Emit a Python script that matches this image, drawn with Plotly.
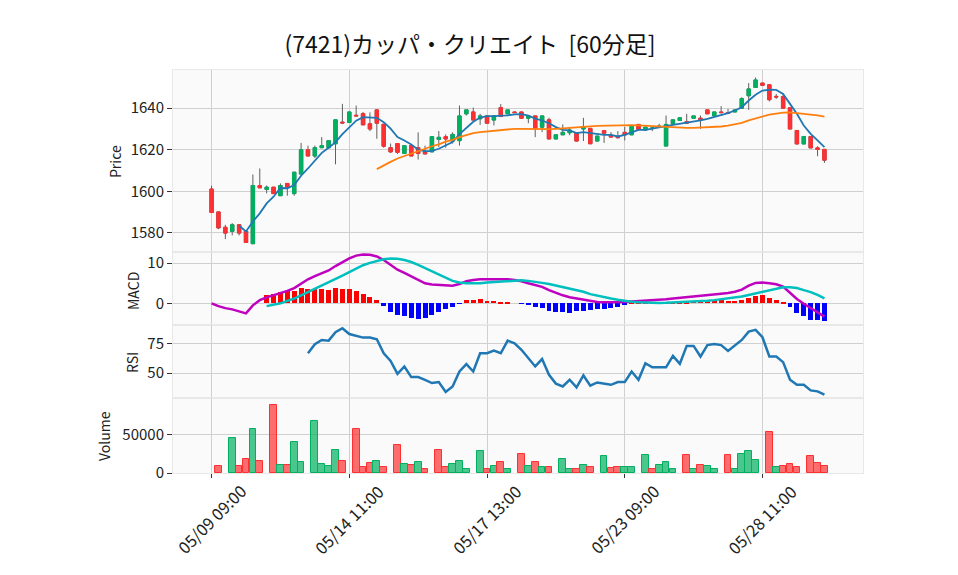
import plotly.graph_objects as go
from plotly.subplots import make_subplots

title = '(7421)カッパ・クリエイト\u00a0\u00a0[60分足]'

days = ['05/09', '05/10', '05/13', '05/14', '05/15', '05/16', '05/17', '05/20',
        '05/21', '05/22', '05/23', '05/24', '05/27', '05/28', '05/29']
sessions = ['09:00', '10:00', '11:00', '12:30', '13:00', '14:00']
bar_times = [f'{d} {s}' for d in days for s in sessions]
tick_idx = [0, 20, 40, 60, 80]

opens = [1601.1, 1590.1, 1582.7, 1580.7, 1583.9, 1580.8, 1574.8, 1602.8, 1600.9, 1602.0,
         1597.9, 1603.8, 1598.9, 1608.3, 1620.0, 1617.0, 1621.0, 1621.0, 1622.9, 1633.3,
         1633.1, 1636.6, 1637.4, 1632.5, 1639.2, 1632.3, 1621.0, 1623.0, 1618.2, 1622.0,
         1621.0, 1619.0, 1619.0, 1625.0, 1626.3, 1624.2, 1624.4, 1637.3, 1638.2, 1634.9,
         1636.3, 1634.3, 1640.3, 1637.3, 1638.2, 1638.2, 1635.2, 1636.3, 1630.9, 1634.4,
         1625.2, 1627.2, 1628.2, 1628.2, 1630.0, 1630.3, 1624.2, 1629.2, 1627.0, 1626.5,
         1628.4, 1627.2, 1632.2, 1629.5, 1630.2, 1630.8, 1621.8, 1632.5, 1634.1, 1633.6,
         1635.2, 1635.2, 1639.2, 1636.3, 1638.2, 1637.9, 1638.2, 1640.0, 1646.0, 1650.0,
         1652.1, 1651.3, 1645.7, 1645.6, 1640.2, 1629.3, 1622.8, 1626.4, 1620.9, 1620.2]
highs = [1602.7, 1590.1, 1583.9, 1584.7, 1583.9, 1580.8, 1608.1, 1611.0, 1602.8, 1602.0,
         1603.8, 1603.8, 1609.2, 1623.3, 1622.0, 1622.0, 1626.1, 1624.4, 1634.4, 1642.1,
         1638.2, 1641.3, 1638.2, 1638.0, 1639.5, 1632.3, 1623.0, 1623.0, 1622.0, 1622.0,
         1628.4, 1622.0, 1626.3, 1629.0, 1627.4, 1628.4, 1641.3, 1639.2, 1640.3, 1637.3,
         1636.3, 1636.3, 1642.0, 1639.2, 1638.2, 1638.2, 1636.3, 1636.3, 1636.3, 1635.4,
         1627.2, 1632.2, 1631.0, 1628.2, 1635.4, 1630.3, 1626.6, 1629.2, 1628.5, 1629.0,
         1631.0, 1631.2, 1632.2, 1630.9, 1631.0, 1632.5, 1636.5, 1634.4, 1635.4, 1637.3,
         1636.3, 1636.5, 1639.2, 1638.2, 1641.0, 1639.7, 1639.2, 1645.3, 1652.1, 1654.8,
         1652.1, 1651.3, 1646.9, 1646.9, 1640.2, 1629.3, 1626.4, 1626.4, 1621.7, 1620.2]
lows = [1589.8, 1581.8, 1577.0, 1578.8, 1578.8, 1575.4, 1574.8, 1601.7, 1599.0, 1598.9,
        1597.9, 1597.9, 1597.9, 1608.3, 1617.0, 1616.0, 1621.0, 1621.0, 1613.0, 1632.9,
        1633.1, 1636.3, 1632.0, 1629.0, 1625.3, 1621.0, 1618.5, 1618.0, 1618.2, 1617.0,
        1615.3, 1618.0, 1619.0, 1621.3, 1621.0, 1623.0, 1622.0, 1636.5, 1634.3, 1632.0,
        1632.8, 1631.7, 1636.0, 1637.3, 1637.9, 1635.2, 1632.8, 1626.1, 1628.5, 1625.2,
        1625.2, 1627.2, 1627.0, 1624.2, 1624.2, 1622.9, 1624.2, 1623.3, 1626.1, 1625.5,
        1624.5, 1627.2, 1629.8, 1629.5, 1629.0, 1630.5, 1621.8, 1632.5, 1634.1, 1632.8,
        1635.2, 1630.1, 1637.3, 1636.3, 1637.5, 1637.3, 1638.2, 1640.0, 1639.2, 1650.0,
        1651.0, 1643.3, 1644.5, 1640.0, 1630.0, 1622.8, 1622.8, 1620.9, 1616.9, 1613.7]
closes = [1589.8, 1582.4, 1579.9, 1583.9, 1579.9, 1575.4, 1602.8, 1601.7, 1602.0, 1598.9,
          1602.8, 1602.0, 1609.2, 1620.0, 1617.0, 1621.0, 1622.0, 1624.4, 1634.4, 1632.9,
          1638.2, 1636.3, 1632.0, 1630.0, 1632.8, 1621.7, 1619.0, 1618.8, 1622.0, 1617.0,
          1618.2, 1618.0, 1626.3, 1626.0, 1625.2, 1627.4, 1636.3, 1639.2, 1634.3, 1636.3,
          1632.8, 1636.3, 1636.0, 1639.2, 1637.9, 1635.2, 1636.3, 1630.1, 1636.3, 1625.2,
          1627.2, 1628.4, 1629.5, 1624.2, 1631.2, 1622.9, 1626.6, 1628.0, 1626.1, 1625.8,
          1627.2, 1631.2, 1629.8, 1630.9, 1630.5, 1631.4, 1632.2, 1634.4, 1635.4, 1632.8,
          1636.3, 1634.4, 1637.3, 1638.2, 1637.9, 1637.6, 1639.2, 1644.6, 1649.3, 1653.6,
          1651.0, 1644.1, 1645.4, 1640.0, 1630.0, 1622.8, 1626.4, 1620.9, 1620.2, 1615.0]
volumes = [0, 9600, 0, 45200, 9600, 18700, 57000, 16100, 0, 87800,
           10900, 10900, 40000, 14800, 0, 67400, 12200, 9600, 29600, 16100,
           0, 57000, 7400, 13500, 16100, 7400, 0, 36100, 12200, 10900,
           14800, 5650, 0, 29600, 7400, 12200, 16100, 4800, 0, 28300,
           5650, 9600, 14800, 5650, 0, 25200, 9600, 14800, 7400, 7400,
           0, 17800, 4800, 5650, 10900, 7400, 0, 21700, 6100, 7400,
           7400, 7400, 0, 23000, 4800, 10900, 14800, 4800, 0, 23900,
           4800, 10900, 9600, 4800, 0, 23900, 4800, 25200, 27800, 16500,
           0, 52600, 7400, 9600, 12200, 7400, 0, 22600, 13500, 9600]

ma5 = [None] * 4 + [
    1583.4, 1580.7, 1585.5, 1589.4, 1594.2, 1597.4, 1601.6, 1601.5, 1603.0, 1607.5,
    1611.0, 1615.0, 1618.5, 1621.0, 1623.7, 1627.5, 1631.0, 1634.0, 1635.7, 1635.7,
    1635.4, 1633.3, 1630.2, 1626.1, 1624.5, 1622.5, 1620.0, 1619.3, 1619.5, 1620.5,
    1622.0, 1623.7, 1627.5, 1630.5, 1633.5, 1635.5, 1636.2, 1636.2, 1636.3, 1636.6,
    1637.0, 1637.2, 1636.5, 1635.0, 1634.1, 1632.8, 1630.9, 1629.6, 1629.3, 1628.0,
    1628.5, 1628.0, 1627.4, 1627.2, 1627.2, 1626.4, 1627.2, 1628.5, 1629.6, 1629.6,
    1630.1, 1630.6, 1631.4, 1632.0, 1632.5, 1633.0, 1633.6, 1634.1, 1634.9, 1635.7,
    1636.5, 1637.6, 1638.9, 1640.5, 1643.7, 1646.5, 1648.5, 1648.9, 1648.8, 1646.9,
    1642.1, 1637.3, 1631.7, 1627.7, 1624.5, 1621.3]
ma25 = [None] * 24 + [
    1610.7, 1612.6, 1614.2, 1615.8, 1616.9, 1618.1, 1619.3, 1620.5, 1621.7, 1622.6,
    1623.9, 1624.8, 1626.1, 1627.2, 1628.0, 1628.5, 1628.8, 1629.2, 1629.6, 1630.0,
    1630.1, 1630.1, 1630.0, 1629.9, 1629.8, 1629.9, 1630.1, 1630.4, 1630.7, 1630.9,
    1631.1, 1631.3, 1631.5, 1631.6, 1631.7, 1631.8, 1632.0, 1631.9, 1631.7, 1631.5,
    1631.3, 1631.0, 1630.8, 1630.6, 1630.5, 1630.5, 1630.5, 1630.6, 1630.8, 1630.9,
    1631.2, 1631.6, 1632.3, 1633.0, 1634.2, 1635.2, 1636.1, 1636.9, 1637.4, 1637.9,
    1638.0, 1637.7, 1637.5, 1637.1, 1636.6, 1636.0]

macd = [0.0, -0.7, -1.2, -1.5, -2.0, -2.5, -0.5, 0.8, 1.5, 2.0,
        2.6, 3.1, 3.8, 5.0, 6.0, 6.8, 7.5, 8.2, 9.3, 10.3,
        11.2, 11.9, 12.2, 12.1, 11.7, 10.8, 9.6, 8.4, 7.6, 6.8,
        5.8, 5.0, 4.7, 4.6, 4.5, 4.4, 4.8, 5.5, 5.8, 6.0,
        6.0, 6.0, 6.1, 6.0, 5.8, 5.5, 5.0, 4.6, 4.1, 3.3,
        2.6, 2.0, 1.5, 1.2, 0.9, 0.5, 0.35, 0.25, 0.25, 0.25,
        0.35, 0.45, 0.55, 0.65, 0.7, 0.8, 1.0, 1.2, 1.35, 1.55,
        1.7, 1.85, 2.0, 2.2, 2.4, 2.6, 2.9, 3.4, 4.4, 5.1,
        5.2, 5.0, 4.75, 4.2, 2.6, 1.1, -0.1, -1.2, -2.2, -3.3]
signal = [None] * 8 + [
    -0.7, -0.4, 0.0, 0.6, 1.2, 2.0, 2.8, 3.6, 4.4, 5.1,
    6.0, 6.9, 7.8, 8.7, 9.5, 10.1, 10.6, 11.0, 11.2, 11.1,
    10.8, 10.3, 9.6, 8.8, 7.8, 7.1, 6.3, 5.6, 5.2, 5.0,
    5.0, 5.0, 5.2, 5.3, 5.5, 5.6, 5.7, 5.75, 5.6, 5.4,
    5.1, 4.8, 4.4, 4.0, 3.6, 3.2, 2.9, 2.3, 1.9, 1.5,
    1.2, 0.9, 0.6, 0.4, 0.3, 0.2, 0.15, 0.1, 0.12, 0.18,
    0.25, 0.35, 0.45, 0.55, 0.65, 0.8, 1.0, 1.2, 1.4, 1.7,
    2.1, 2.5, 2.9, 3.3, 3.7, 4.0, 4.0, 3.8, 3.3, 2.8,
    2.1, 1.25]
hist = [None] * 8 + [
    2.1, 2.3, 2.75, 3.1, 3.1, 3.8, 3.6, 3.6, 3.6, 3.3,
    3.8, 3.6, 3.6, 3.1, 2.4, 1.6, 0.8, -0.6, -2.1, -2.8,
    -3.2, -3.6, -3.8, -3.6, -2.8, -2.2, -1.4, -0.8, -0.15, 0.8,
    0.8, 1.1, 0.6, 0.6, 0.33, 0.33, 0.0, -0.1, -0.25, -1.0,
    -1.1, -1.9, -2.2, -2.2, -2.3, -1.9, -1.9, -1.75, -1.5, -1.4,
    -1.1, -0.8, -0.25, 0.05, 0.1, 0.2, 0.3, 0.3, 0.3, 0.3,
    0.25, 0.4, 0.5, 0.5, 0.6, 0.75, 0.75, 0.6, 0.67, 0.75,
    1.25, 1.8, 2.1, 1.25, 0.8, 0.1, -1.0, -2.5, -3.25, -4.1,
    -4.25, -4.5]
rsi = [None] * 14 + [
    67, 74.7, 78.4, 77.8, 85, 88.4, 83.5, 81.8, 80.4, 80.4,
    79, 67, 60.5, 49.4, 55.7, 46.6, 46.6, 44.3, 41.5, 42.3,
    33.8, 38.6, 51.4, 57.7, 51.4, 67, 67, 69.3, 67, 77.8,
    75.6, 70, 62.8, 55.7, 62, 48.6, 41, 38.6, 44.3, 37.8,
    48, 39.2, 42, 41, 40, 42.3, 42.3, 51.4, 44.3, 58.5,
    55, 55, 55, 64.8, 58, 73.3, 73.3, 64.2, 74, 75,
    74, 69, 74, 78.4, 85.5, 87, 80.7, 64.2, 64.2, 59.4,
    44.3, 40, 40, 35.2, 34.4, 31.5]

UP, DOWN, WICK = '#00b060', '#fe3032', '#606060'
FONT = 'Noto Sans CJK JP'
GRID = '#d0d0d0'

# The page body adds an 8px margin, so the figure is 8px smaller than the window
# and the plot area (173..863 x 70..473 on screen) is placed from there.
W, H = 950, 567
ML, MT, PW, PH = 165, 62, 690, 403

x = list(range(len(bar_times)))

fig = make_subplots(rows=4, cols=1, shared_xaxes=True, vertical_spacing=0,
                    row_heights=[182, 73, 73, 75])

# wicks first, then bodies without wicks on top so the wick stays grey
fig.add_trace(go.Candlestick(
    x=x, open=opens, high=highs, low=lows, close=closes,
    increasing=dict(line=dict(color=WICK, width=1), fillcolor=WICK),
    decreasing=dict(line=dict(color=WICK, width=1), fillcolor=WICK),
    hoverinfo='skip'), row=1, col=1)
fig.add_trace(go.Candlestick(
    x=x, open=opens, close=closes,
    high=[max(o, c) for o, c in zip(opens, closes)],
    low=[min(o, c) for o, c in zip(opens, closes)],
    increasing=dict(line=dict(color=UP, width=1), fillcolor=UP),
    decreasing=dict(line=dict(color=DOWN, width=1), fillcolor=DOWN),
    text=bar_times), row=1, col=1)
fig.add_trace(go.Scatter(x=x, y=ma5, mode='lines',
                         line=dict(color='#1f77b4', width=1.8)), row=1, col=1)
fig.add_trace(go.Scatter(x=x, y=ma25, mode='lines',
                         line=dict(color='#ff7f0e', width=1.8)), row=1, col=1)

fig.add_trace(go.Bar(x=x, y=hist, width=0.72,
                     marker=dict(color=['#ff0000' if h is not None and h >= 0 else '#0000ff'
                                        for h in hist], line=dict(width=0))),
              row=2, col=1)
fig.add_trace(go.Scatter(x=x, y=macd, mode='lines',
                         line=dict(color='#bf00bf', width=2.5)), row=2, col=1)
fig.add_trace(go.Scatter(x=x, y=signal, mode='lines',
                         line=dict(color='#00bfbf', width=2.5)), row=2, col=1)

fig.add_trace(go.Scatter(x=x, y=rsi, mode='lines',
                         line=dict(color='#1f77b4', width=2.5)), row=3, col=1)

# volume colour follows the change from the previous close
vol_up = [i > 0 and closes[i] > closes[i - 1] for i in x]
fig.add_trace(go.Bar(
    x=x, y=volumes, width=0.98,
    marker=dict(color=['rgba(0,176,96,0.7)' if u else 'rgba(254,48,50,0.7)' for u in vol_up],
                line=dict(color=[UP if u else DOWN for u in vol_up],
                          width=[1 if v > 0 else 0 for v in volumes]))),
    row=4, col=1)

y_ranges = [[1570.8, 1658.4], [-5.4, 12.8], [28.7, 91.2], [0, 96900]]
y_ticks = [[1580, 1600, 1620, 1640], [0, 10], [50, 75], [0, 50000]]
for r in range(1, 5):
    fig.update_xaxes(row=r, col=1, range=[-5.6, 94.6], tickvals=tick_idx,
                     showticklabels=False, showgrid=True, gridcolor=GRID,
                     zeroline=False, showline=True, linecolor='#e8e8e8', mirror=True,
                     rangeslider=dict(visible=False))
    fig.update_yaxes(row=r, col=1, range=y_ranges[r - 1], tickvals=y_ticks[r - 1],
                     tickformat='d', showgrid=True, gridcolor=GRID, zeroline=False,
                     ticks='outside', ticklen=5, tickcolor='#333',
                     tickfont=dict(size=15, color='#222'),
                     showline=True, linecolor='#e8e8e8', mirror=True)
fig.update_xaxes(row=4, col=1, ticks='outside', ticklen=4, tickcolor='#333')

annotations = []
for k in tick_idx:
    annotations.append(dict(x=k, xref='x4', y=0, yref='paper', text=bar_times[k],
                            showarrow=False, textangle=-45, xanchor='center',
                            yanchor='top', yshift=-4,
                            font=dict(size=16.5, color='#222')))

# panel labels, positions in screen pixels
panel_titles = [('Price', 115, 162), ('MACD', 133, 291), ('RSI', 132, 363), ('Volume', 104, 436)]
for text, px_x, px_y in panel_titles:
    annotations.append(dict(x=(px_x - 8 - ML) / PW, xref='paper',
                            y=(MT + PH - (px_y - 8)) / PH, yref='paper', text=text,
                            showarrow=False, textangle=-90, xanchor='center',
                            yanchor='middle', font=dict(size=14, color='#222')))

fig.update_layout(
    width=W, height=H,
    margin=dict(l=ML, r=W - ML - PW, t=MT, b=H - MT - PH),
    paper_bgcolor='white', plot_bgcolor='#fafafa',
    font=dict(family=FONT, color='#222'),
    title=dict(text=title, x=(470 - 8) / W, xanchor='center',
               y=1 - (45 - 8) / H, yanchor='middle',
               font=dict(size=23, color='#111')),
    showlegend=False, barmode='overlay', bargap=0,
    annotations=annotations,
)

fig.write_html('out.html')
